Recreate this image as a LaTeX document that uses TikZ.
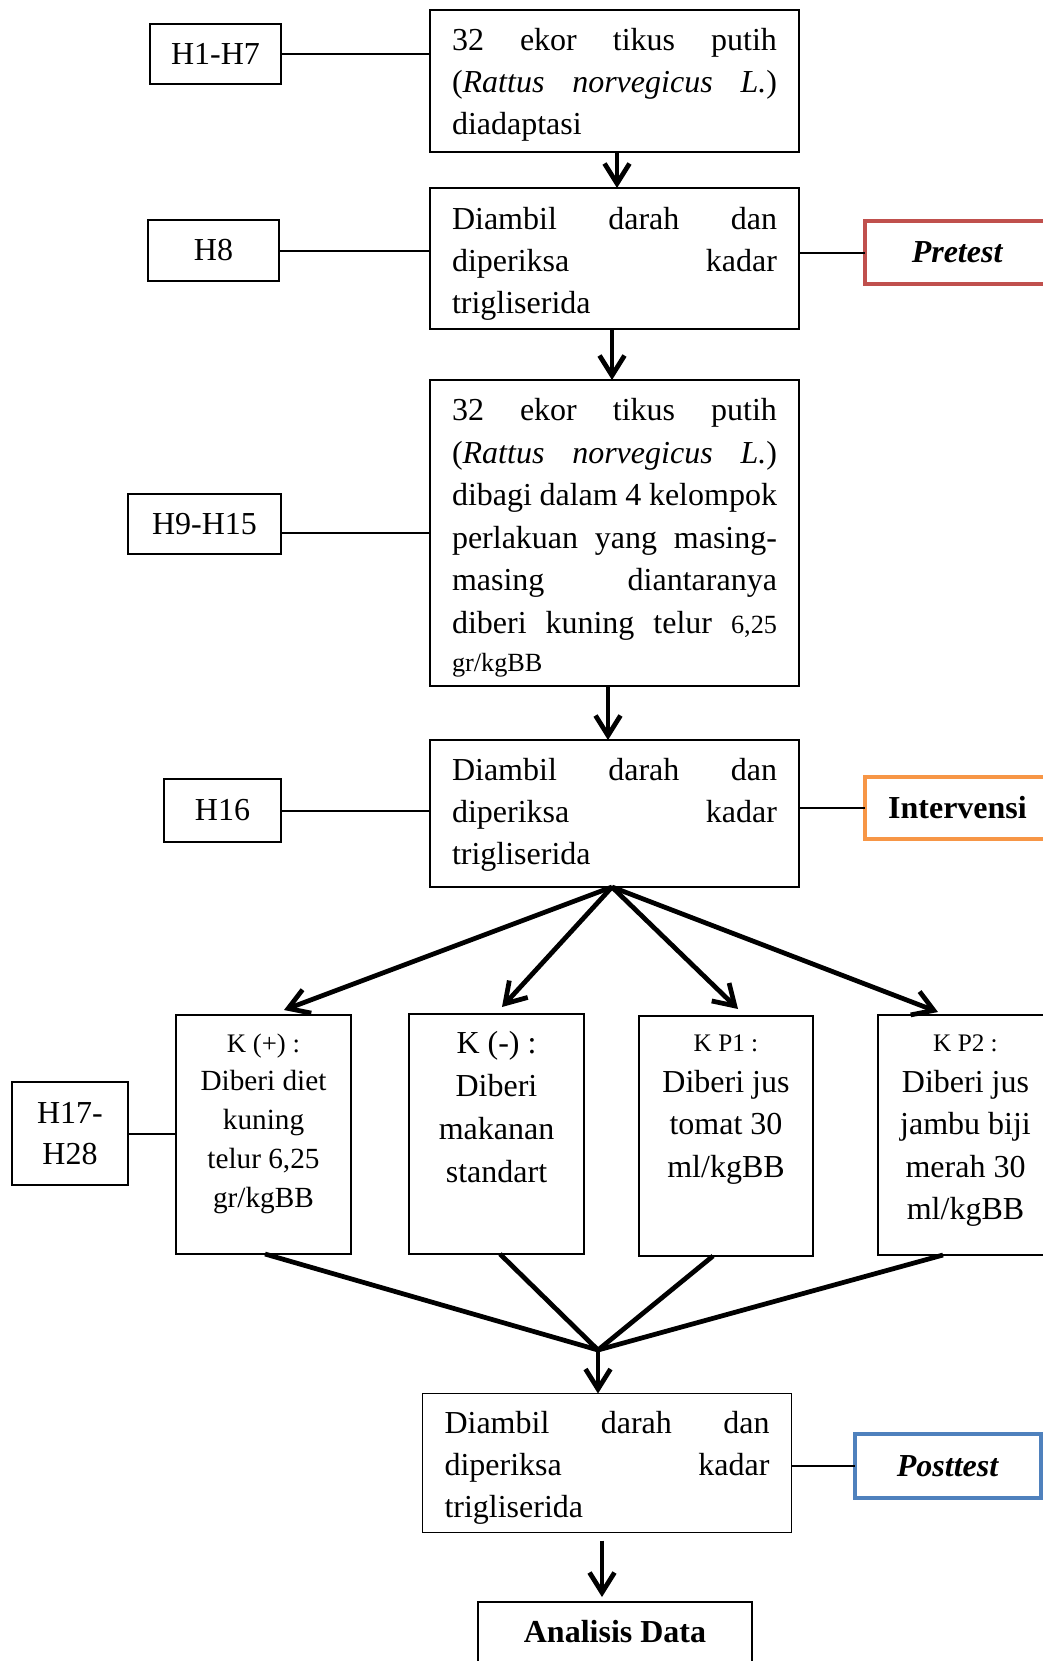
\documentclass[tikz,border=0pt]{standalone}
\usepackage{fontspec}
\setmainfont{Liberation Serif}
\usetikzlibrary{arrows.meta,calc}
\definecolor{pretestred}{HTML}{C0504D}
\definecolor{intorange}{HTML}{F79646}
\definecolor{postblue}{HTML}{4F81BD}
\newcommand{\jl}[1]{\makebox[\linewidth][s]{#1}}
% #1 height, #2 baselineskip, #3 downward shift (x2), #4 text
\newcommand{\mtext}[4]{\parbox[c][#1][c]{130pt}{\fontsize{12.8}{#2}\selectfont\vspace*{#3}#4}}
\newcommand{\smallf}{\fontsize{10.5}{12.4}\selectfont}
\begin{document}
\begin{tikzpicture}[x=0.4pt,y=-0.4pt,
  mainbox/.style={draw, line width=0.6pt, inner xsep=8.8pt, inner ysep=0pt, outer sep=0pt},
  hbox/.style={draw, line width=0.6pt, inner sep=0pt, outer sep=0pt, align=center, font=\fontsize{12.8}{16.4}\selectfont},
  grpbox/.style={draw, line width=0.6pt, inner sep=0pt, outer sep=0pt},
  tagbox/.style={draw, line width=1.6pt, inner sep=0pt, outer sep=0pt, font=\fontsize{12.8}{15}\selectfont\bfseries},
  link/.style={line width=0.8pt},
  flow/.style={line width=1.9pt, -{Straight Barb[length=8pt,width=10pt]}},
  fan/.style={line width=1.9pt}
]
\useasboundingbox (0,0) rectangle (1043,1661);

% main column
\node[mainbox] (b1) at (614.5,81) {\mtext{56.8pt}{16.8pt}{3.4pt}{\jl{32 ekor tikus putih}\\
  \jl{(\textit{Rattus norvegicus L.})}\\
  diadaptasi}};
\node[mainbox] (b2) at (614.5,258.5) {\mtext{56.4pt}{16.8pt}{4.2pt}{\jl{Diambil darah dan}\\
  \jl{diperiksa kadar}\\
  trigliserida}};
\node[mainbox] (b3) at (614.5,533) {\mtext{122.4pt}{17pt}{3.8pt}{\jl{32 ekor tikus putih}\\
  \jl{(\textit{Rattus norvegicus L.})}\\
  \jl{dibagi dalam 4 kelompok}\\
  \jl{perlakuan yang masing-}\\
  \jl{masing diantaranya}\\
  \jl{diberi kuning telur {\smallf 6,25}}\\[-1.7pt]
  {\smallf gr/kgBB}}};
\node[mainbox] (b4) at (614.5,813.5) {\mtext{58.8pt}{16.8pt}{0.8pt}{\jl{Diambil darah dan}\\
  \jl{diperiksa kadar}\\
  trigliserida}};
\node[mainbox] (b5) at (607,1463) {\mtext{55.6pt}{16.8pt}{4.2pt}{\jl{Diambil darah dan}\\
  \jl{diperiksa kadar}\\
  trigliserida}};
\node[hbox, minimum width=109.6pt, minimum height=24pt, font=\fontsize{12.8}{15}\selectfont\bfseries] (ad) at (615,1632) {Analisis Data};

% day boxes
\node[hbox, minimum width=52.4pt, minimum height=24pt] (h1) at (215.5,54) {H1-H7};
\node[hbox, minimum width=52.4pt, minimum height=24.4pt] (h8) at (213.5,250.5) {H8};
\node[hbox, minimum width=61.2pt, minimum height=24pt] (h9) at (204.5,524) {H9-H15};
\node[hbox, minimum width=46.8pt, minimum height=25.2pt] (h16) at (222.5,810.5) {H16};
\node[hbox, minimum width=46.4pt, minimum height=41.2pt] (h17) at (70,1133.5) {H17-\\H28};

% group boxes
\node[grpbox] (g1) at (263.5,1134.5) {\parbox[c][95.6pt][t]{70pt}{\centering\fontsize{11.7}{15.5}\selectfont
  \rule{0pt}{14.8pt}{\fontsize{10.7}{12}\selectfont K (+) :}\\
  Diberi diet\\ kuning\\ telur 6,25\\ gr/kgBB}};
\node[grpbox] (g2) at (496.5,1134) {\parbox[c][96pt][t]{70pt}{\centering\fontsize{12.8}{17.2}\selectfont
  \rule{0pt}{15.6pt}K (-) :\\
  Diberi\\ makanan\\ standart}};
\node[grpbox] (g3) at (726,1136) {\parbox[c][96pt][t]{69.6pt}{\centering\fontsize{12.8}{17}\selectfont
  \rule{0pt}{14pt}{\fontsize{10.1}{12}\selectfont K P1 :}\\[-0.6pt]
  Diberi jus\\ tomat 30\\ ml/kgBB}};
\node[grpbox] (g4) at (965.5,1135) {\parbox[c][96pt][t]{70pt}{\centering\fontsize{12.8}{17}\selectfont
  \rule{0pt}{14.4pt}{\fontsize{10.1}{12}\selectfont K P2 :}\\[-0.6pt]
  Diberi jus\\ jambu biji\\ merah 30\\ ml/kgBB}};

% tag boxes
\node[tagbox, draw=pretestred, minimum width=74pt, minimum height=25.2pt] (pre) at (957.5,252.5) {\textit{Pretest}};
\node[tagbox, draw=intorange, minimum width=74pt, minimum height=24.8pt] (int) at (957.5,808) {Intervensi};
\node[tagbox, draw=postblue, minimum width=74.4pt, minimum height=25.6pt] (post) at (948,1466) {\textit{Posttest}};

% thin links
\draw[link] (h1.east) -- (h1.east -| b1.west);
\draw[link] (h8.east) -- (h8.east -| b2.west);
\draw[link] (pre.west -| b2.east) -- (pre.west);
\draw[link] (h9.east |- b3.west) -- (b3.west);
\draw[link] (h16.east) -- (h16.east -| b4.west);
\draw[link] (int.west -| b4.east) -- (int.west);
\draw[link] (h17.east) -- (h17.east -| g1.west);
\draw[link] (post.west -| b5.east) -- (post.west);

% main flow
\draw[flow] ($(b1.south)+(2.5,0)$) -- ($(b2.north)+(2.5,0)$);
\draw[flow] ($(b2.south)+(-2.5,0)$) -- ($(b3.north)+(-2.5,0)$);
\draw[flow] ($(b3.south)+(-6.5,0)$) -- ($(b4.north)+(-6.5,0)$);

% fan out
\coordinate (fo) at ($(b4.south)+(-2.5,0)$);
\draw[flow] (fo) -- ($(g1.north)+(20.5,-5)$);
\draw[flow] (fo) -- ($(g2.north)+(5.5,-7)$);
\draw[flow] (fo) -- ($(g3.north)+(12,-7)$);
\draw[flow] (fo) -- ($(g4.north)+(-27.5,-3)$);

% fan in
\coordinate (m) at (598,1350);
\draw[fan] ($(g1.south)+(1.5,0)$) -- (m);
\draw[fan] ($(g2.south)+(3.5,0)$) -- (m);
\draw[fan] ($(g3.south)+(-13,0)$) -- (m);
\draw[fan] ($(g4.south)+(-22.5,0)$) -- (m);
\draw[flow] (m) -- (m |- b5.north);

% to analysis
\draw[flow] ($(b5.south)+(-5,8)$) -- ($(ad.north)+(-13,-5)$);
\end{tikzpicture}
\end{document}
